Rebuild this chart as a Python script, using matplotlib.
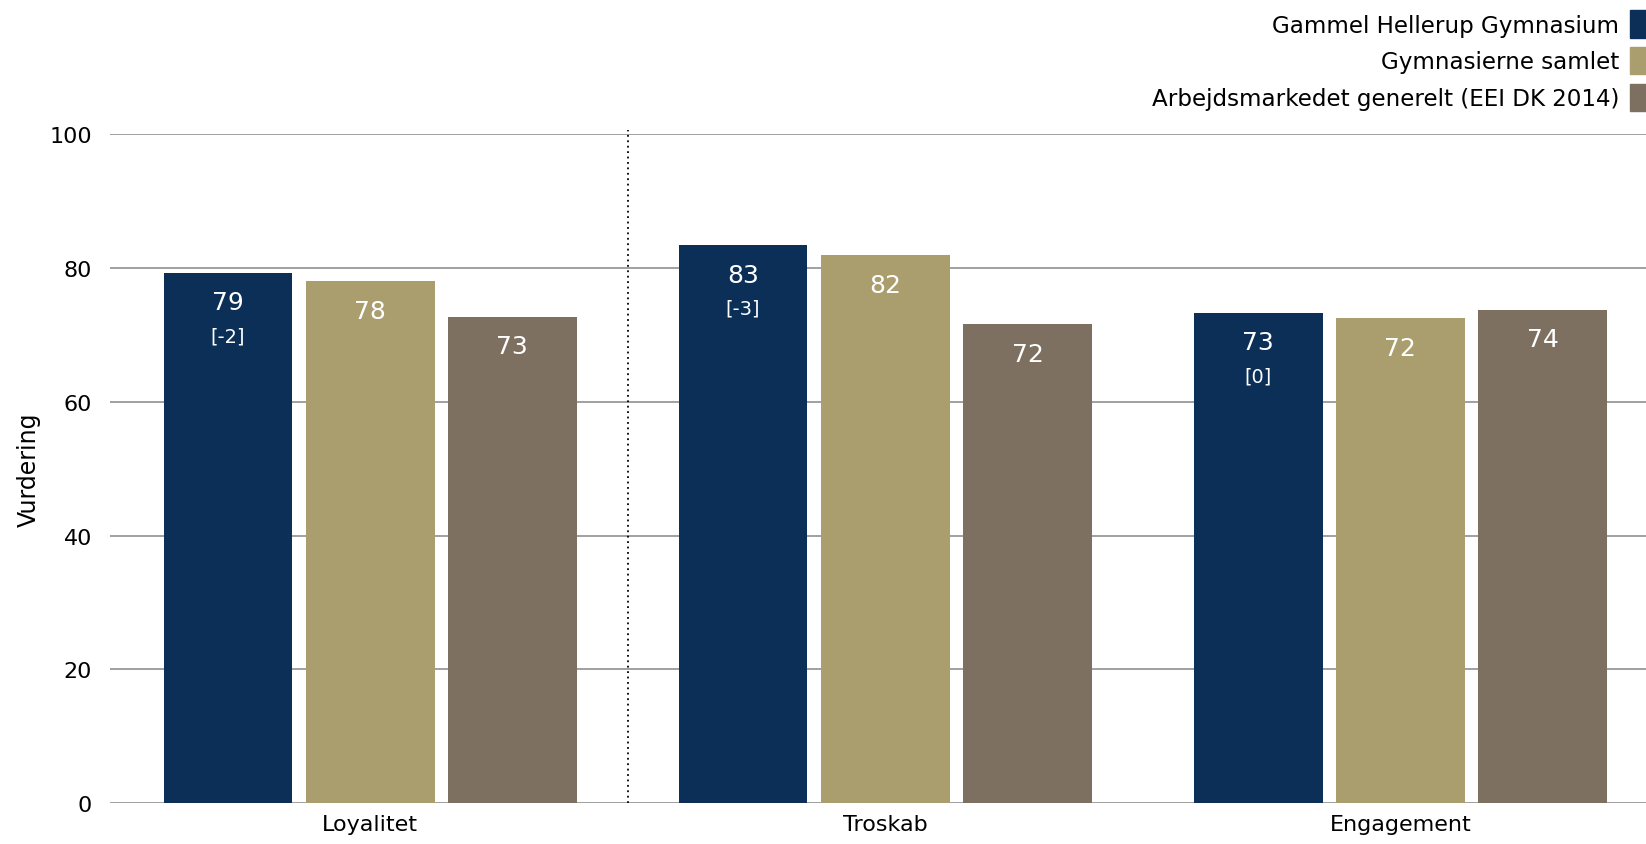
import numpy as np
import matplotlib.pyplot as plt
from matplotlib.patches import Patch

categories = ['Loyalitet', 'Troskab', 'Engagement']
series_names = ['Gammel Hellerup Gymnasium', 'Gymnasierne samlet',
                'Arbejdsmarkedet generelt (EEI DK 2014)']
ghg = [79.3, 83.4, 73.3]
samlet = [78.0, 81.9, 72.5]
eei = [72.7, 71.6, 73.8]
changes = ['[-2]', '[-3]', '[0]']
yticks = [0, 20, 40, 60, 80, 100]

colors = ['#0B2F57', '#AA9D6E', '#7D7060']

fig = plt.figure(figsize=(16.46, 8.45), dpi=100)
ax = fig.add_axes([0.0668, 0.0485, 0.9405, 0.7913])

x = np.arange(len(categories))
width = 0.25
offset = 0.276

for i, (vals, col) in enumerate(zip([ghg, samlet, eei], colors)):
    pos = x + (i - 1) * offset
    ax.bar(pos, vals, width, color=col, zorder=3)
    for p, v in zip(pos, vals):
        ax.text(p, v - 4.4, f'{v:.0f}', ha='center', va='center',
                color='white', fontsize=18, zorder=4)
    if i == 0:
        for p, v, c in zip(pos, vals, changes):
            ax.text(p, v - 9.4, c, ha='center', va='center',
                    color='white', fontsize=14, zorder=4)

# dotted separator between first and other groups
ax.plot([0.5, 0.5], [0, 100.6], color='black', linestyle=(0, (1, 2)),
        linewidth=1.3, clip_on=False, zorder=2)

ax.set_xlim(-0.505, 2.5)
ax.set_ylim(0, 100)
ax.set_yticks(yticks)
ax.set_xticks(x)
ax.set_xticklabels(categories, fontsize=16)
ax.tick_params(axis='y', labelsize=16, length=0, pad=13)
ax.tick_params(axis='x', length=0, pad=8)
ax.yaxis.grid(True, color='#999999', linewidth=1.3, zorder=0)
ax.set_axisbelow(True)
for s in ax.spines.values():
    s.set_visible(False)
ax.set_ylabel('Vurdering', fontsize=17, labelpad=6)

handles = [Patch(color=c) for c in colors]
fig.legend(handles, series_names, loc='upper right', bbox_to_anchor=(1.018, 1.011),
           frameon=False, markerfirst=False, fontsize=16.6, handlelength=1.1,
           handleheight=1.45, labelspacing=0.4, handletextpad=0.45)

fig.savefig('out.png', dpi=100)
